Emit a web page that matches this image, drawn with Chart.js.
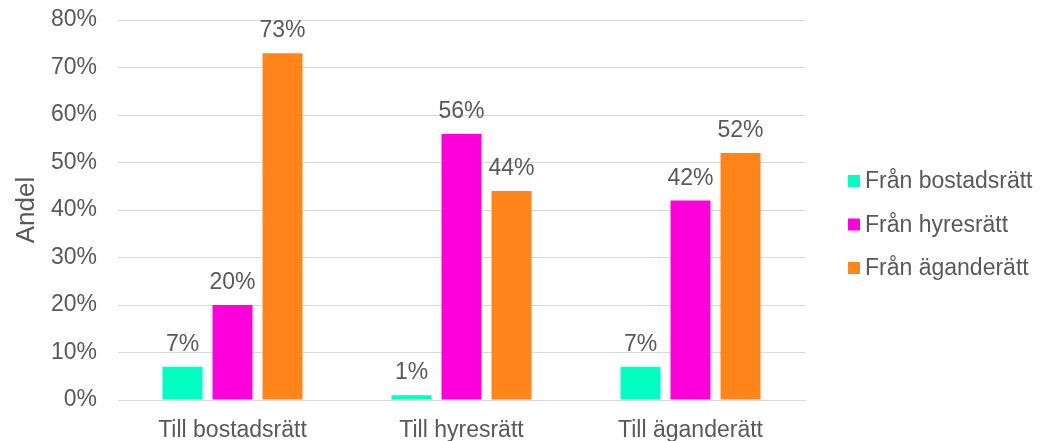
<!DOCTYPE html>
<html lang="sv">

<head>
    <meta charset="UTF-8">
    <title>Andel per upplåtelseform</title>
    <script src="https://cdn.jsdelivr.net/npm/chart.js"></script>
    <style>
        html, body {
            margin: 0;
            padding: 0;
            background: #fff;
        }

        #wrap {
            width: 1041px;
            height: 441px;
        }
    </style>
</head>

<body>
    <div id="wrap">
        <canvas id="myChart" width="1041" height="441"></canvas>
    </div>

    <script>
        const categories = ['Till bostadsrätt', 'Till hyresrätt', 'Till äganderätt'];
        const seriesNames = ['Från bostadsrätt', 'Från hyresrätt', 'Från äganderätt'];
        const fromBostadsratt = [7, 1, 7];
        const fromHyresratt = [20, 56, 42];
        const fromAganderatt = [73, 44, 52];
        const yTicks = [0, 10, 20, 30, 40, 50, 60, 70, 80];

        const colors = ['#00FFC3', '#FF00DD', '#FF851A'];
        const textColor = '#595959';
        const fontFamily = '"Liberation Sans", Arial, sans-serif';
        const fontSize = 23;

        // value labels above each bar
        const barLabels = {
            id: 'barLabels',
            afterDatasetsDraw(chart) {
                const ctx = chart.ctx;
                ctx.save();
                ctx.font = fontSize + 'px ' + fontFamily;
                ctx.fillStyle = textColor;
                ctx.textAlign = 'center';
                ctx.textBaseline = 'alphabetic';
                chart.data.datasets.forEach((ds, i) => {
                    chart.getDatasetMeta(i).data.forEach((bar, j) => {
                        ctx.fillText(ds.data[j] + '%', bar.x, bar.y - 16);
                    });
                });
                ctx.restore();
            }
        };

        // legend on the right, square markers
        const sideLegend = {
            id: 'sideLegend',
            afterDraw(chart) {
                const ctx = chart.ctx;
                ctx.save();
                ctx.font = fontSize + 'px ' + fontFamily;
                ctx.textAlign = 'left';
                ctx.textBaseline = 'middle';
                chart.data.datasets.forEach((ds, i) => {
                    const cy = 181 + i * 43.5;
                    ctx.fillStyle = ds.backgroundColor;
                    ctx.fillRect(848, cy - 6, 12, 12);
                    ctx.fillStyle = textColor;
                    ctx.fillText(ds.label, 865, cy + 1);
                });
                ctx.restore();
            }
        };

        const seriesData = [fromBostadsratt, fromHyresratt, fromAganderatt];

        new Chart(document.getElementById('myChart'), {
            type: 'bar',
            data: {
                labels: categories,
                datasets: seriesNames.map((name, i) => ({
                    label: name,
                    data: seriesData[i],
                    backgroundColor: colors[i],
                    categoryPercentage: 0.655,
                    barPercentage: 0.8
                }))
            },
            options: {
                responsive: false,
                animation: false,
                layout: {
                    padding: { top: 20, right: 236, bottom: 0, left: 11 }
                },
                scales: {
                    x: {
                        afterFit: (scale) => { scale.height = 41; },
                        grid: { display: false, drawTicks: false },
                        border: { display: true, color: '#d9d9d9' },
                        ticks: {
                            color: textColor,
                            padding: 17,
                            font: { family: fontFamily, size: fontSize }
                        }
                    },
                    y: {
                        min: 0,
                        max: 80,
                        afterFit: (scale) => {
                            scale.width = 107;
                            scale.paddingTop = 0;
                            scale.paddingBottom = 0;
                        },
                        afterBuildTicks: (axis) => {
                            axis.ticks = yTicks.map(v => ({ value: v }));
                        },
                        grid: { color: '#d9d9d9', lineWidth: 1, drawTicks: false },
                        border: { display: false },
                        ticks: {
                            color: textColor,
                            padding: 21,
                            font: { family: fontFamily, size: fontSize },
                            callback: (value) => value + '%'
                        },
                        title: {
                            display: true,
                            text: 'Andel',
                            color: textColor,
                            padding: { top: 0, bottom: 0 },
                            font: { family: fontFamily, size: 26 }
                        }
                    }
                },
                plugins: {
                    legend: { display: false },
                    tooltip: { enabled: false }
                }
            },
            plugins: [barLabels, sideLegend]
        });
    </script>
</body>

</html>
